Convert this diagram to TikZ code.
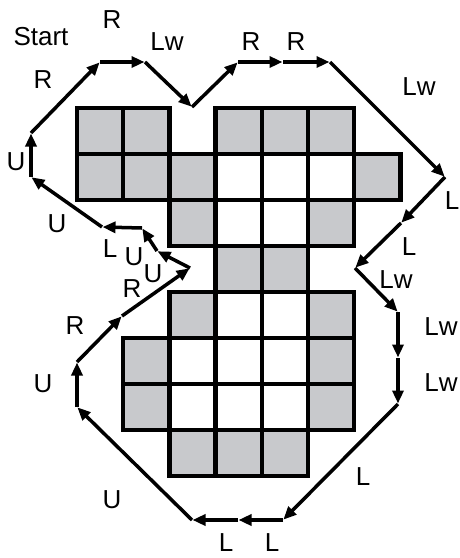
\documentclass[tikz,border=0pt]{standalone}
\usepackage{fontspec}
\setmainfont{Liberation Sans}
\usetikzlibrary{arrows.meta}
\definecolor{cellgray}{RGB}{200,201,204}
\begin{document}
\begin{tikzpicture}[x=1pt,y=-1pt,
  cellbox/.style={draw=black, line width=4.5pt},
  seg/.style={line width=3.5pt, -{Triangle[length=13pt,width=11pt]}, shorten >=0.5pt},
  lab/.style={font=\fontsize{26}{30}\selectfont, inner sep=0pt}]
\useasboundingbox (0,0) rectangle (460,558);
\fill[white] (0,0) rectangle (460,558);
% grey cells
\foreach \cc/\rr in {0/0,1/0,3/0,4/0,5/0, 0/1,1/1,2/1,6/1, 2/2,5/2, 3/3,4/3, 2/4,5/4, 1/5,5/5, 1/6,5/6, 2/7,3/7,4/7}
  \fill[cellgray] (77+46.2*\cc,108+46*\rr) rectangle ++(46.2,46);
% all cell borders
\foreach \cc/\rr in {0/0,1/0,3/0,4/0,5/0, 0/1,1/1,2/1,3/1,4/1,5/1,6/1, 2/2,3/2,4/2,5/2, 3/3,4/3, 2/4,3/4,4/4,5/4, 1/5,2/5,3/5,4/5,5/5, 1/6,2/6,3/6,4/6,5/6, 2/7,3/7,4/7}
  \draw[cellbox] (77+46.2*\cc,108+46*\rr) rectangle ++(46.2,46);
% path vertices
\coordinate (p1) at (31,177);
\coordinate (p2) at (31,133);
\coordinate (p3) at (100,62);
\coordinate (p4) at (145,62);
\coordinate (p5) at (192,107);
\coordinate (p6) at (238,62);
\coordinate (p7) at (283,62);
\coordinate (p8) at (330,62);
\coordinate (p9) at (445,177);
\coordinate (p10) at (401,223);
\coordinate (p11) at (355,268);
\coordinate (p12) at (398,312);
\coordinate (p13) at (398,358);
\coordinate (p14) at (398,404);
\coordinate (p15) at (283,520);
\coordinate (p16) at (238,520);
\coordinate (p17) at (192,520);
\coordinate (p18) at (77,407);
\coordinate (p19) at (77,362);
\coordinate (p20) at (122,316);
\coordinate (p21) at (190,268);
\coordinate (p22) at (157,251);
\coordinate (p23) at (142,228);
\coordinate (p24) at (102,227);
\draw[seg] (p1) -- (p2);
\draw[seg] (p2) -- (p3);
\draw[seg] (p3) -- (p4);
\draw[seg] (p4) -- (p5);
\draw[seg] (p5) -- (p6);
\draw[seg] (p6) -- (p7);
\draw[seg] (p7) -- (p8);
\draw[seg] (p8) -- (p9);
\draw[seg] (p9) -- (p10);
\draw[seg] (p10) -- (p11);
\draw[seg] (p11) -- (p12);
\draw[seg] (p12) -- (p13);
\draw[seg] (p13) -- (p14);
\draw[seg] (p14) -- (p15);
\draw[seg] (p15) -- (p16);
\draw[seg] (p16) -- (p17);
\draw[seg] (p17) -- (p18);
\draw[seg] (p18) -- (p19);
\draw[seg] (p19) -- (p20);
\draw[seg] (p20) -- (p21);
\draw[seg] (p21) -- (p22);
\draw[seg] (p22) -- (p23);
\draw[seg] (p23) -- (p24);
\draw[seg] (p24) -- (p1);
% labels
\node[lab] (tstart) at (41,37) {Start};
\node[lab] (t1) at (112,20) {R};
\node[lab] (t2) at (43,80) {R};
\node[lab] (t3) at (167,42) {Lw};
\node[lab] (t4) at (251,42) {R};
\node[lab] (t5) at (296,42) {R};
\node[lab] (t6) at (419,87) {Lw};
\node[lab] (t7) at (452,201) {L};
\node[lab] (t8) at (409,247) {L};
\node[lab] (t9) at (396,280) {Lw};
\node[lab] (t10) at (441,327) {Lw};
\node[lab] (t11) at (441,383) {Lw};
\node[lab] (t12) at (363,477) {L};
\node[lab] (t13) at (272,543) {L};
\node[lab] (t14) at (226,543) {L};
\node[lab] (t15) at (112,500) {U};
\node[lab] (t16) at (43,384) {U};
\node[lab] (t17) at (75,326) {R};
\node[lab] (t18) at (132,289) {R};
\node[lab] (t19) at (153,274) {U};
\node[lab] (t20) at (134,257) {U};
\node[lab] (t21) at (110,249) {L};
\node[lab] (t22) at (57,224) {U};
\node[lab] (t23) at (16,162) {U};
\end{tikzpicture}
\end{document}
